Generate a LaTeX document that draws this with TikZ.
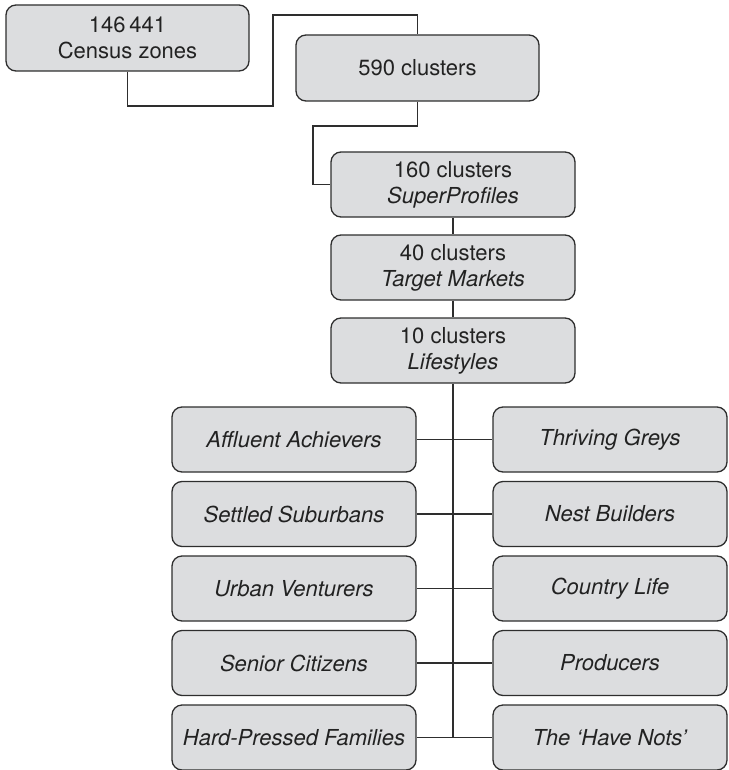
\documentclass[tikz,border=0pt]{standalone}
\usepackage{fontspec}
\setmainfont{TeX Gyre Heros}
\definecolor{boxgray}{HTML}{DCDDDF}
\definecolor{edgegray}{HTML}{2E2E2E}
\definecolor{txtgray}{HTML}{222222}
\begin{document}
\begin{tikzpicture}[x=1pt,y=-1pt,
  box/.style={rectangle, rounded corners=10pt, draw=edgegray, fill=boxgray, line width=1.3pt,
    minimum height=65pt, align=center, text=txtgray, inner sep=2pt,
    font=\fontsize{22}{26}\selectfont},
  lbox/.style={box, minimum width=244pt},
  rbox/.style={box, minimum width=234pt},
  conn/.style={draw=edgegray, line width=1.3pt}]
\useasboundingbox (0,0) rectangle (728,770);
\node[box, minimum width=243pt, minimum height=66pt] (cz) at (127.5,38) {146\,441\\Census zones};
\node[box, minimum width=243pt, minimum height=66pt] (c590) at (417.5,68) {590 clusters};
\node[box, minimum width=244pt] (c160) at (453,184.5) {160 clusters\\\textit{SuperProfiles}};
\node[box, minimum width=244pt] (c40) at (453,267.5) {40 clusters\\\textit{Target Markets}};
\node[box, minimum width=244pt] (c10) at (453,350.5) {10 clusters\\\textit{Lifestyles}};
\node[lbox] (L1) at (294,439.5) {\textit{Affluent Achievers}};
\node[lbox] (L2) at (294,514) {\textit{Settled Suburbans}};
\node[lbox] (L3) at (294,588.5) {\textit{Urban Venturers}};
\node[lbox] (L4) at (294,663) {\textit{Senior Citizens}};
\node[lbox] (L5) at (294,737.5) {\textit{Hard-Pressed Families}};
\node[rbox] (R1) at (610,439.5) {\textit{Thriving Greys}};
\node[rbox] (R2) at (610,514) {\textit{Nest Builders}};
\node[rbox] (R3) at (610,588.5) {\textit{Country Life}};
\node[rbox] (R4) at (610,663) {\textit{Producers}};
\node[rbox] (R5) at (610,737.5) {\textit{The ‘Have Nots’}};
\coordinate (k1) at (273,106);
\coordinate (k2) at (273,15);
\coordinate (k3) at (313,126);
\coordinate (kend) at (453,737.5);
\draw[conn] (cz.south) |- (k1) -- (k2) -| (c590.north);
\draw[conn] (c590.south) |- (k3) |- (c160.west);
\draw[conn] (c160.south) -- (c40.north);
\draw[conn] (c40.south) -- (c10.north);
\draw[conn] (c10.south) -- (kend);
\foreach \i in {1,...,5} {\draw[conn] (L\i.east) -- (R\i.west);}
\end{tikzpicture}
\end{document}
